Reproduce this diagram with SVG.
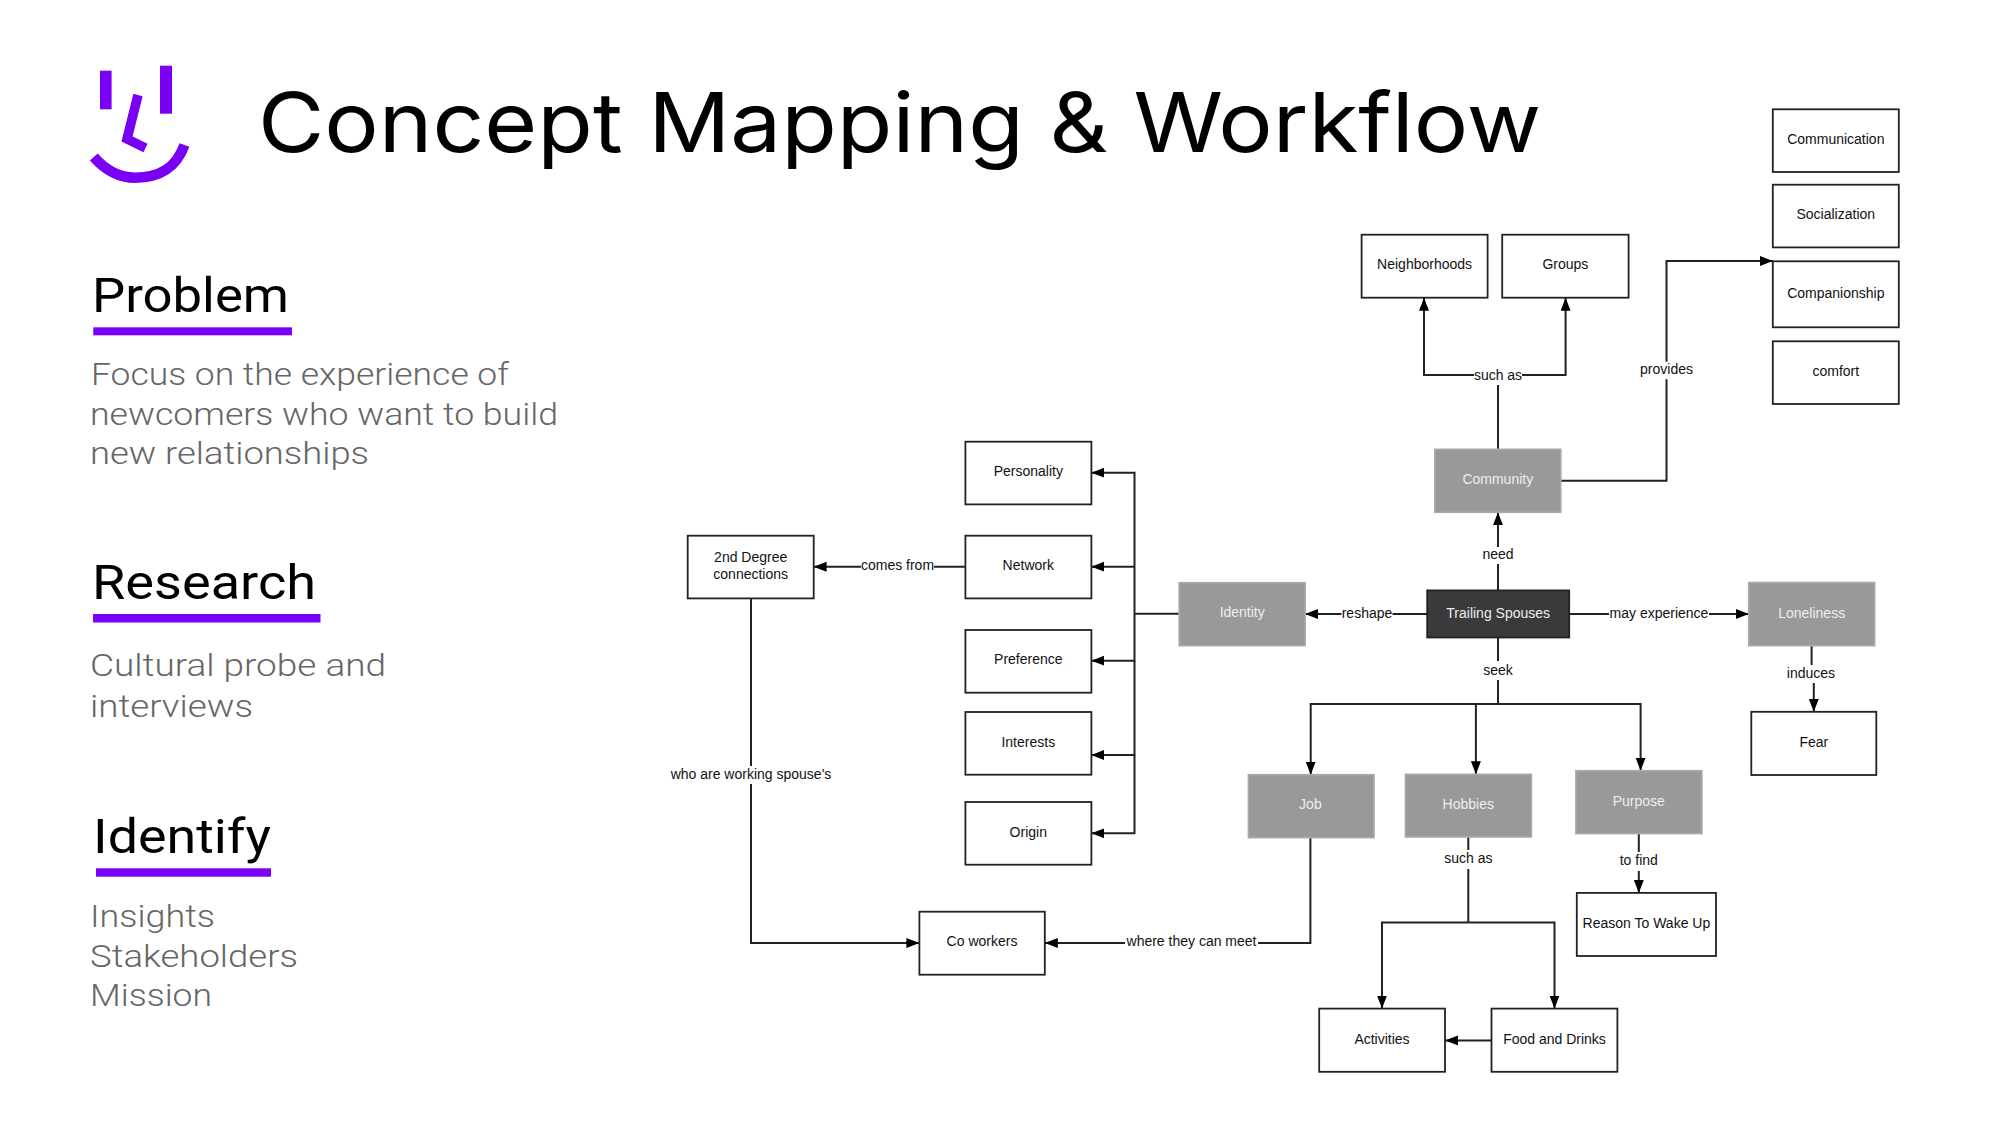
<svg xmlns="http://www.w3.org/2000/svg" width="2000" height="1125" viewBox="0 0 2000 1125">
<style>
.title{font-family:Inter,"Liberation Sans",sans-serif;font-size:83px;font-weight:400;fill:#000}
.h{font-family:Roboto,"Liberation Sans",sans-serif;font-size:48px;font-weight:400;fill:#000}
.b{font-family:Roboto,"Liberation Sans",sans-serif;font-size:32px;font-weight:300;fill:#666}
.ul{fill:#7a00f5}
.n rect{fill:#fff;stroke:#222;stroke-width:1.8}
.g rect{fill:#999;stroke:#aaa;stroke-width:1.6}
.d rect{fill:#3a3a3a;stroke:#222;stroke-width:1.8}
text.t,.n text,.g text,.d text{font-family:"Liberation Sans",Arial,sans-serif;font-size:14px;text-anchor:middle}
.n text,text.t{fill:#111}
.g text{fill:#eee}
.d text{fill:#eee}
.c path{fill:none;stroke:#222;stroke-width:2}
.c path.a{marker-end:url(#ah)}
.c rect{fill:#fff}
</style>
<defs>
<marker id="ah" markerUnits="userSpaceOnUse" markerWidth="14" markerHeight="11" refX="13" refY="5" orient="auto"><path d="M0 0L13 5L0 10Z" fill="#000"/></marker>
</defs>
<rect width="2000" height="1125" fill="#fff"/>
<g id="logo" fill="none" stroke="#7a00f5">
<rect x="100" y="70.7" width="11.6" height="38.6" fill="#7a00f5" stroke="none"/>
<rect x="160" y="65.7" width="12" height="48" fill="#7a00f5" stroke="none"/>
<path d="M138 95L127 139L145.5 148" stroke-width="9.5"/>
<path d="M93.8 157C107 172 120 177.7 135 177.7C160 177.7 176 168 184.5 145" stroke-width="10.5"/>
</g>
<text id="title" class="title" x="258" y="152" textLength="1283" lengthAdjust="spacingAndGlyphs">Concept Mapping &amp; Workflow</text>
<g id="problem">
<text class="h" x="92" y="312" textLength="197" lengthAdjust="spacingAndGlyphs">Problem</text>
<rect class="ul" x="93.3" y="327.3" width="198.7" height="8"/>
<text class="b" x="91" y="385" textLength="418" lengthAdjust="spacingAndGlyphs">Focus on the experience of</text>
<text class="b" x="90" y="425" textLength="468" lengthAdjust="spacingAndGlyphs">newcomers who want to build</text>
<text class="b" x="90" y="464" textLength="279" lengthAdjust="spacingAndGlyphs">new relationships</text>
</g>
<g id="research">
<text class="h" x="92" y="599.3" textLength="224" lengthAdjust="spacingAndGlyphs">Research</text>
<rect class="ul" x="93" y="614" width="227.5" height="8.5"/>
<text class="b" x="90" y="675.7" textLength="296" lengthAdjust="spacingAndGlyphs">Cultural probe and</text>
<text class="b" x="90" y="716.5" textLength="163" lengthAdjust="spacingAndGlyphs">interviews</text>
</g>
<g id="identify">
<text class="h" x="93" y="852.7" textLength="178" lengthAdjust="spacingAndGlyphs">Identify</text>
<rect class="ul" x="96" y="868.3" width="175" height="8.4"/>
<text class="b" x="90" y="926.7" textLength="125" lengthAdjust="spacingAndGlyphs">Insights</text>
<text class="b" x="90" y="966.7" textLength="208" lengthAdjust="spacingAndGlyphs">Stakeholders</text>
<text class="b" x="90" y="1006" textLength="122" lengthAdjust="spacingAndGlyphs">Mission</text>
</g>
<g id="connectors" class="c">
<path class="a" d="M1498 449.3V375H1424V297.7"/>
<path class="a" d="M1498 375H1565.6V297.7"/>
<path class="a" d="M1561 480.7H1666.5V261H1772.8"/>
<path class="a" d="M1498 590.4V512.3"/>
<path class="a" d="M1427.2 614H1305"/>
<path class="a" d="M1569.2 614H1748.7"/>
<path d="M1498 637.5V704"/>
<path class="a" d="M1498 704H1310.7V774.7"/>
<path class="a" d="M1475.9 704V774.3"/>
<path class="a" d="M1498 704H1640.6V770.7"/>
<path class="a" d="M1811.6 645.7V672H1813.8V711.8"/>
<path d="M1179.2 613.7H1134.5"/>
<path class="a" d="M1134.5 613.7V472.7H1091.3"/>
<path class="a" d="M1134.5 566.7H1091.3"/>
<path class="a" d="M1134.5 613.7V660.7H1091.3"/>
<path class="a" d="M1134.5 660.7V755H1091.3"/>
<path class="a" d="M1134.5 755V833.3H1091.3"/>
<path class="a" d="M965.4 566.7H813.6"/>
<path class="a" d="M751 598.3V943H919.4"/>
<path class="a" d="M1310.4 837.7V943H1044.8"/>
<path d="M1468.3 837V922.5"/>
<path class="a" d="M1468.3 922.5H1382V1008.6"/>
<path class="a" d="M1468.3 922.5H1554.5V1008.6"/>
<path class="a" d="M1491.5 1040.4H1445"/>
<path class="a" d="M1638.8 833.6V892.9"/>
<rect x="1474" y="367" width="48" height="18"/><text class="t" x="1498" y="380">such as</text>
<rect x="1639" y="361.7" width="56" height="17.5"/><text class="t" x="1666.5" y="374.3">provides</text>
<rect x="1483" y="547" width="30" height="17"/><text class="t" x="1498" y="559">need</text>
<rect x="1341.5" y="605" width="51" height="16"/><text class="t" x="1367" y="617.5">reshape</text>
<rect x="1609" y="605" width="100" height="16"/><text class="t" x="1659" y="617.5">may experience</text>
<rect x="1483" y="661" width="30" height="19"/><text class="t" x="1498" y="674.5">seek</text>
<rect x="1786" y="665" width="50" height="18"/><text class="t" x="1811" y="678">induces</text>
<rect x="1444" y="850" width="48" height="19"/><text class="t" x="1468.3" y="863">such as</text>
<rect x="1618" y="852" width="41" height="19"/><text class="t" x="1638.8" y="865.4">to find</text>
<rect x="861" y="558" width="73" height="17"/><text class="t" x="897.5" y="570.3">comes from</text>
<rect x="670" y="766" width="162" height="18"/><text class="t" x="751" y="779">who are working spouse's</text>
<rect x="1125" y="933" width="133" height="17"/><text class="t" x="1191.5" y="946.3">where they can meet</text>
</g>
<g id="n-communication" class="n"><rect x="1772.8" y="109.3" width="126" height="62.7"/><text x="1835.8" y="144">Communication</text></g>
<g id="n-socialization" class="n"><rect x="1772.8" y="184.7" width="126" height="62.7"/><text x="1835.8" y="219">Socialization</text></g>
<g id="n-companionship" class="n"><rect x="1772.8" y="261.3" width="126" height="66"/><text x="1835.8" y="297.5">Companionship</text></g>
<g id="n-comfort" class="n"><rect x="1772.8" y="341.3" width="126" height="62.7"/><text x="1835.8" y="376">comfort</text></g>
<g id="n-neighborhoods" class="n"><rect x="1361.6" y="234.7" width="126" height="63"/><text x="1424.6" y="269">Neighborhoods</text></g>
<g id="n-groups" class="n"><rect x="1502.2" y="234.7" width="126.4" height="63"/><text x="1565.4" y="269">Groups</text></g>
<g id="n-community" class="g"><rect x="1434.8" y="449.3" width="126" height="63"/><text x="1497.8" y="484">Community</text></g>
<g id="n-trailing" class="d"><rect x="1427.2" y="590.4" width="142" height="47.1"/><text x="1498.2" y="617.5">Trailing Spouses</text></g>
<g id="n-identity" class="g"><rect x="1179.2" y="582.7" width="126" height="63"/><text x="1242.2" y="617">Identity</text></g>
<g id="n-loneliness" class="g"><rect x="1748.7" y="582.5" width="126" height="63.2"/><text x="1811.7" y="617.5">Loneliness</text></g>
<g id="n-fear" class="n"><rect x="1751.3" y="711.8" width="125" height="63.2"/><text x="1813.8" y="747">Fear</text></g>
<g id="n-personality" class="n"><rect x="965.4" y="441.7" width="126" height="62.7"/><text x="1028.3" y="476">Personality</text></g>
<g id="n-network" class="n"><rect x="965.4" y="535.7" width="126" height="62.7"/><text x="1028.3" y="570">Network</text></g>
<g id="n-preference" class="n"><rect x="965.4" y="630" width="126" height="62.7"/><text x="1028.3" y="664">Preference</text></g>
<g id="n-interests" class="n"><rect x="965.4" y="712" width="126" height="62.7"/><text x="1028.3" y="746.5">Interests</text></g>
<g id="n-origin" class="n"><rect x="965.4" y="802" width="126" height="62.7"/><text x="1028.3" y="836.5">Origin</text></g>
<g id="n-2nd" class="n"><rect x="687.7" y="535.7" width="126" height="62.7"/><text x="750.7" y="562">2nd Degree</text><text x="750.7" y="578.7">connections</text></g>
<g id="n-coworkers" class="n"><rect x="919.4" y="911.7" width="125.4" height="63"/><text x="982" y="946">Co workers</text></g>
<g id="n-job" class="g"><rect x="1248.4" y="774.7" width="125.6" height="63"/><text x="1310.4" y="809">Job</text></g>
<g id="n-hobbies" class="g"><rect x="1405.4" y="774.3" width="126" height="62.7"/><text x="1468.3" y="809">Hobbies</text></g>
<g id="n-purpose" class="g"><rect x="1575.9" y="770.7" width="126" height="62.9"/><text x="1638.8" y="805.5">Purpose</text></g>
<g id="n-reason" class="n"><rect x="1576.8" y="892.9" width="139.2" height="63.1"/><text x="1646.4" y="928">Reason To Wake Up</text></g>
<g id="n-activities" class="n"><rect x="1319.2" y="1008.6" width="125.8" height="63.2"/><text x="1382" y="1043.5">Activities</text></g>
<g id="n-food" class="n"><rect x="1491.5" y="1008.6" width="125.9" height="63.2"/><text x="1554.5" y="1043.5">Food and Drinks</text></g>
</svg>
